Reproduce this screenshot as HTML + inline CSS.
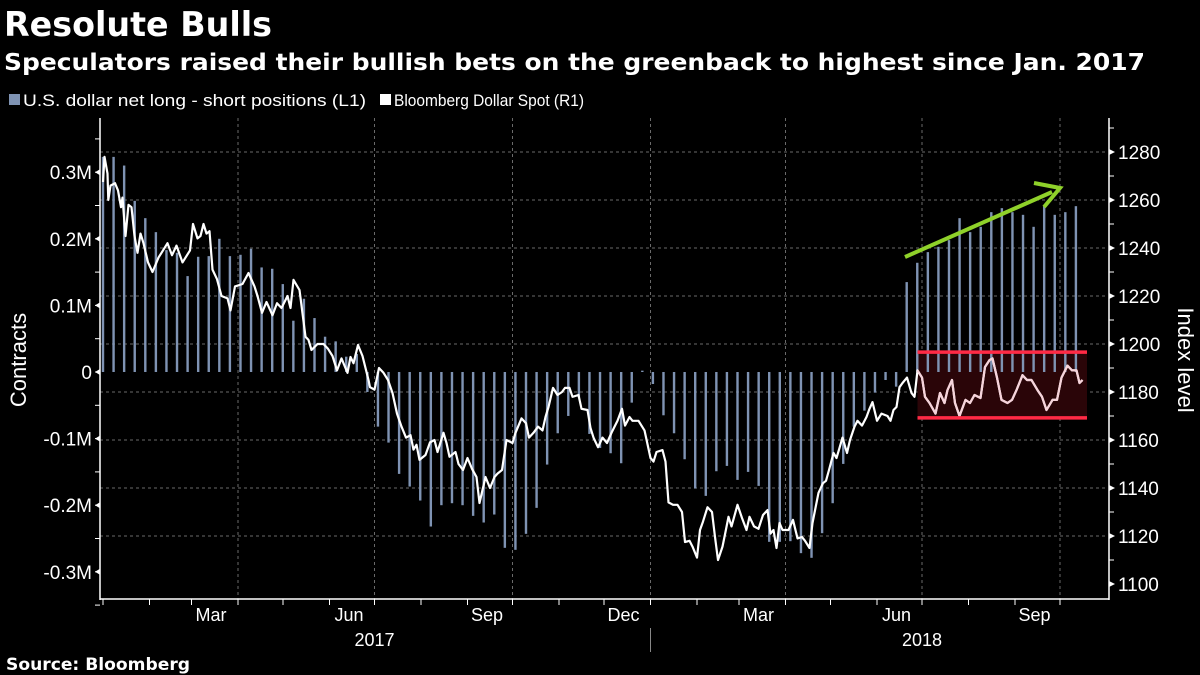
<!DOCTYPE html>
<html><head><meta charset="utf-8"><style>
html,body{margin:0;padding:0;background:#000;}
svg{display:block;font-family:"Liberation Sans",sans-serif;}
</style></head><body>
<svg id="chart" width="1200" height="675" viewBox="0 0 1200 675">
<rect x="0" y="0" width="1200" height="675" fill="#000"/>
<text x="4" y="36" fill="#fff" font-size="34" font-weight="bold" textLength="268" lengthAdjust="spacingAndGlyphs" font-family="DejaVu Sans, sans-serif">Resolute Bulls</text>
<text x="4" y="70" fill="#fff" font-size="23" font-weight="bold" textLength="1141" lengthAdjust="spacingAndGlyphs" font-family="DejaVu Sans, sans-serif">Speculators raised their bullish bets on the greenback to highest since Jan. 2017</text>
<rect x="9" y="94" width="11" height="11" fill="#7f93b3"/>
<text x="23" y="106" fill="#fff" font-size="17" textLength="343" lengthAdjust="spacingAndGlyphs">U.S. dollar net long - short positions (L1)</text>
<rect x="380" y="94" width="11" height="11" fill="#fff"/>
<text x="394" y="106" fill="#fff" font-size="17" textLength="190" lengthAdjust="spacingAndGlyphs">Bloomberg Dollar Spot  (R1)</text>
<g id="grid"></g>
<rect id="box" fill="#2a0508"/>
<g id="bars"></g>
<g id="lines"></g>
<g id="boxlines"></g>
<g id="axes"></g>
<line x1="905" y1="257" x2="1052" y2="192" stroke="#8fd12a" stroke-width="4"/>
<polyline points="1034,183 1060,188 1044,207" fill="none" stroke="#8fd12a" stroke-width="4" stroke-linejoin="miter"/>
<text x="26" y="360" fill="#fff" font-size="22" text-anchor="middle" transform="rotate(-90 26 360)">Contracts</text>
<text x="1178" y="360" fill="#fff" font-size="22" text-anchor="middle" transform="rotate(90 1178 360)">Index level</text>
<text x="6" y="670" fill="#fff" font-size="17" font-weight="bold" textLength="184" lengthAdjust="spacingAndGlyphs" font-family="DejaVu Sans, sans-serif">Source: Bloomberg</text>
</svg>
<script>
const barValues=[0.323,0.323,0.31,0.257,0.231,0.21,0.183,0.179,0.144,0.173,0.174,0.2,0.174,0.176,0.185,0.157,0.155,0.132,0.077,0.11,0.081,0.053,0.046,0.023,0.027,-0.03,
-0.082,-0.106,-0.153,-0.172,-0.193,-0.232,-0.2,-0.197,-0.2,-0.216,-0.226,-0.214,-0.264,-0.267,-0.243,-0.204,-0.139,-0.092,-0.066,-0.038,-0.093,-0.114,-0.122,-0.137,-0.046,0.002,-0.018,-0.065,-0.092,-0.131,-0.175,
-0.186,-0.149,-0.141,-0.162,-0.15,-0.171,-0.255,-0.255,-0.254,-0.272,-0.279,-0.242,-0.197,-0.138,-0.082,-0.058,-0.031,-0.012,-0.022,
0.135,0.164,0.18,0.188,0.198,0.231,0.21,0.218,0.24,0.246,0.24,0.236,0.218,0.249,0.236,0.24,0.249];
const lineDays=[0,1,3,3.5,5,8,10,12,13,15,17,19,21,23,25,27,30,33,37,39,43,46,49,53,58,60,63,65,67,69,71,73,76,79,83,85,88,93,97,101,103,106,109,113,116,119,123,125,127,131,135,137,139,143,147,150,153,156,159,163,165,167,170,173,177,
178,181,184,187,190,193,196,199,202,205,207,209,211,215,218,221,223,227,229,231,235,237,240,243,246,249,251,255,258,261,263,266,269,273,275,279,282,284,287,290,293,295,297,300,303,306,308,311,313,317,319,323,325,327,330,333,336,339,343,346,348,351,353,357,361,365,367,369,373,375,377,380,383,386,388,391,393,396,398,400,403,406,408,410,413,415,417,419,423,426,429,431,434,437,440,443,445,447,449,451,453,457,460,463,466,468,471,473,477,480,482,484,487,489,491,493,496,498,501,503,506,509,511,513,516,519,523,525,527,529,531,533,536,539,541,543,546,548,551,555,558,561,563,566,568,571,575,578,581,585,588,591,593,596,599,603,606,609,613,616,619,623,626,629,633,636,639,643,646,649,651,653];
const lineValues=[1267.5,1278,1271,1260,1266,1267,1264,1257,1261,1245,1258,1257,1245,1238,1246,1242,1234,1230,1236,1238,1242,1237,1241,1234,1239,1250,1244,1245,1250,1246,1247,1231,1227,1220,1219,1214,1224,1225,1229.6,1224,1220,1213,1217.5,1212,1217,1215,1220,1215,1226.7,1222.5,1203,1201.7,1197.5,1200,1200,1198,1195,1189,1194,1188,1194.6,1192,1199.6,1195,1185,
1182,1181,1190,1188,1185,1179.6,1171,1165.6,1161,1162,1156,1158,1151.7,1153.75,1159,1160,1155,1163,1158.75,1153,1155,1150,1147.5,1152.5,1148,1144.6,1133.75,1144.6,1140,1144.6,1146,1147.5,1160,1158.75,1163,1169,1167,1161,1163,1165.6,1164,1169.6,1173.75,1181.7,1178.75,1180,1181.7,1181.7,1178,1178.75,1173,1172.5,1165,1161,1157,1161,1158.75,1163,1168,1173,1166,1169.6,1168,1168,1164,1152.5,1151,1155,1155.8,1151,1134,1133,1133,1130,1117.5,1118,1115.6,1111,1122.5,1126,1132,1130,1119.6,1110,1115.6,1121.7,1128,1124,1133,1127.5,1122.5,1128,1124,1123,1128.75,1130.8,1121,1122.5,1115,1125.4,1122.5,1122.5,1126.7,1119,1119.6,1118,1115,1125.4,1138,1142,1143,1147.5,1154.6,1152.5,1156.7,1161,1154.6,1160,1165.6,1168,1166,1169.6,1173,1175.8,1168,1171,1170,1168,1172.5,1173.75,1182,1183.75,1186,1179.6,1178,1189,1186,1178,1175.4,1171,1179.6,1175.4,1180.8,1185,1175.4,1170,1176.7,1175.4,1178.75,1177.5,1190.4,1193.3,1194,1186,1176.7,1175.4,1176.7,1180.8,1187,1185,1185,1180.8,1178,1172.5,1176.7,1176.7,1186,1191,1189,1189,1183.75,1185];
const leftTicks=[0.3,0.2,0.1,0,-0.1,-0.2,-0.3];
const leftTickLabels=["0.3M","0.2M","0.1M","0","-0.1M","-0.2M","-0.3M"];
const rightTicks=[1280,1260,1240,1220,1200,1180,1160,1140,1120,1100];
const monthLabels=["Mar","Jun","Sep","Dec","Mar","Jun","Sep"];
const monthLabelDays=[72,164,256,347,437,529,621];
const quarterDays=[90,181,273,365,455,546,638];
const yearLabels=["2017","2018"];
const yearLabelDays=[181,546];
const rangeBox=[1196.6,1169.2];
const boxStartDay=543, boxEndDay=656;

const svgNS="http://www.w3.org/2000/svg";
const X0=103, XD=1.5;
function xDay(d){return X0+d*XD;}
function yL(v){return 372-v*666;}
function yR(v){return 152+(1280-v)*2.4;}
function mk(tag,attrs,parent){const e=document.createElementNS(svgNS,tag);for(const k in attrs)e.setAttribute(k,attrs[k]);document.getElementById(parent).appendChild(e);return e;}

rightTicks.forEach(v=>{if(v===1100)return;const g=mk('line',{x1:100,x2:1108,y1:yR(v),y2:yR(v),stroke:'#6a6a6a','stroke-width':1,'stroke-dasharray':'3,3'},'grid');

});
quarterDays.forEach(d=>{const g=mk('line',{x1:xDay(d),x2:xDay(d),y1:118,y2:599,stroke:'#6a6a6a','stroke-width':1,'stroke-dasharray':'3,3'},'grid');

});

const box=document.getElementById('box');
box.setAttribute('x',xDay(boxStartDay));box.setAttribute('width',xDay(boxEndDay)-xDay(boxStartDay));
box.setAttribute('y',yR(rangeBox[0]));box.setAttribute('height',yR(rangeBox[1])-yR(rangeBox[0]));

barValues.forEach((v,i)=>{const x=xDay(i*7.05);const b=mk('rect',{x:x-1.2,width:2.4,y:Math.min(yL(v),yL(0)),height:Math.abs(yL(v)-yL(0)),fill:'#7f93b3'},'bars');

});

const pts=lineDays.map((d,i)=>xDay(d).toFixed(1)+','+yR(lineValues[i]).toFixed(1)).join(' ');
const pl=mk('polyline',{points:pts,fill:'none',stroke:'#fff','stroke-width':2.2,'stroke-linejoin':'round'},'lines');


const bi=lineDays.findIndex(d=>d>=boxStartDay);
const pts2=lineDays.slice(bi).map((d,k)=>xDay(d).toFixed(1)+','+yR(lineValues[bi+k]).toFixed(1)).join(' ');
const pl2=mk('polyline',{points:pts2,fill:'none',stroke:'#f6d3da','stroke-width':2.2,'stroke-linejoin':'round'},'lines');



rangeBox.forEach(v=>{const l=mk('line',{x1:xDay(boxStartDay),x2:xDay(boxEndDay),y1:yR(v),y2:yR(v),stroke:'#ff2a45','stroke-width':3.5},'boxlines');

});

let a;
a=mk('line',{x1:100,x2:100,y1:118,y2:600,stroke:'#fff','stroke-width':1.5},'axes');


a=mk('line',{x1:1109,x2:1109,y1:118,y2:600,stroke:'#fff','stroke-width':1.5},'axes');


a=mk('line',{x1:100,x2:1109,y1:599,y2:599,stroke:'#fff','stroke-width':1.5},'axes');


for(let v=0.35;v>=-0.35;v-=0.05){const t=mk('line',{x1:95,x2:100,y1:yL(v),y2:yL(v),stroke:'#fff'},'axes');

}
leftTicks.forEach((v,i)=>{const t=mk('text',{x:92,y:yL(v)+7,fill:'#fff','font-size':19,'text-anchor':'end'},'axes');t.textContent=leftTickLabels[i];


const m=mk('polygon',{points:`100,${yL(v)-3} 100,${yL(v)+3} 95,${yL(v)}`,fill:'#fff'},'axes');

});
for(let v=1290;v>=1100;v-=10){const t=mk('line',{x1:1109,x2:1114,y1:yR(v),y2:yR(v),stroke:'#fff'},'axes');

}
rightTicks.forEach(v=>{const t=mk('text',{x:1118,y:yR(v)+7,fill:'#fff','font-size':19},'axes');t.textContent=v;


const m=mk('polygon',{points:`1109,${yR(v)-3} 1109,${yR(v)+3} 1115,${yR(v)}`,fill:'#fff'},'axes');

});
const monthStarts=[0,31,59,90,120,151,181,212,243,273,304,334,365,396,424,455,485,516,546,577,608,638,669];
monthStarts.forEach(d=>{if(xDay(d)>1106)return;const t=mk('line',{x1:xDay(d),x2:xDay(d),y1:599,y2:605,stroke:'#fff'},'axes');

});
monthLabels.forEach((m,i)=>{const t=mk('text',{x:xDay(monthLabelDays[i]),y:621,fill:'#fff','font-size':18,'text-anchor':'middle'},'axes');t.textContent=m;

});
yearLabels.forEach((m,i)=>{const t=mk('text',{x:xDay(yearLabelDays[i]),y:646,fill:'#fff','font-size':18,'text-anchor':'middle'},'axes');t.textContent=m;

});
a=mk('line',{x1:xDay(365),x2:xDay(365),y1:628,y2:652,stroke:'#888'},'axes');


</script>
</body></html>
